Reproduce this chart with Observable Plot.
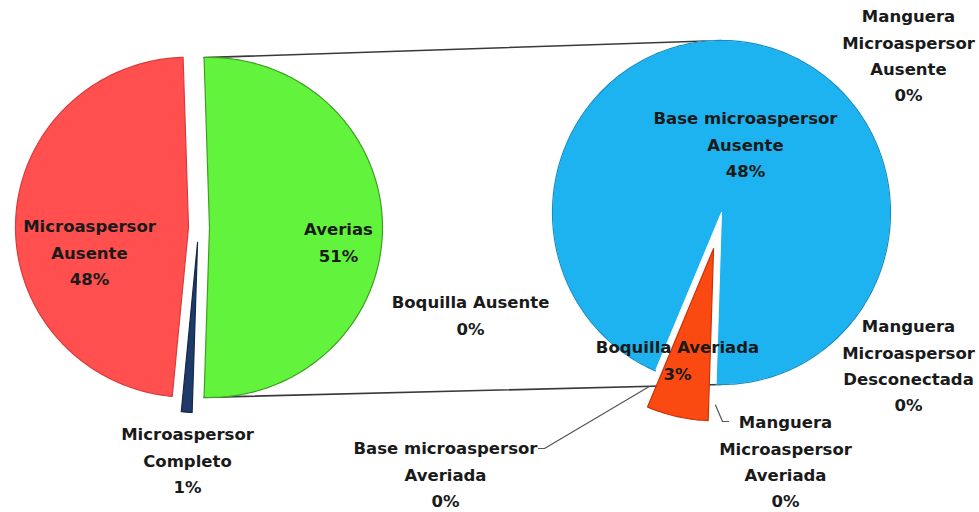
<!DOCTYPE html>
<html><head><meta charset="utf-8">
<script src="https://cdn.jsdelivr.net/npm/d3@7"></script>
<script src="https://cdn.jsdelivr.net/npm/@observablehq/plot@0.6"></script>
<style>body{margin:0;background:#fff} svg{display:block}</style>
</head><body><div id="chart"></div>
<script>
// ---- data (percent of total) ----
const primaryNames  = ["Averias", "Microaspersor Completo", "Microaspersor Ausente"];
const primaryValues = [51, 1, 48];
const primaryLabels = ["Averias", "Microaspersor\nCompleto", "Microaspersor\nAusente"];

const secondaryNames  = ["Base microaspersor Ausente", "Manguera Microaspersor Averiada", "Boquilla Averiada",
                         "Base microaspersor Averiada", "Boquilla Ausente", "Manguera Microaspersor Desconectada",
                         "Manguera Microaspersor Ausente"];
const secondaryValues = [48, 0, 3, 0, 0, 0, 0];
const secondaryLabels = ["Base microaspersor\nAusente", "Manguera\nMicroaspersor\nAveriada", "Boquilla Averiada",
                         "Base microaspersor\nAveriada", "Boquilla Ausente", "Manguera\nMicroaspersor\nDesconectada",
                         "Manguera\nMicroaspersor\nAusente"];

// ---- layout & style (not data) ----
const W = 979, H = 512;
const pie1 = {cx: 198, cy: 227, rx: 173, ry: 170};
const pie2 = {cx: 721, cy: 212, rx: 169, ry: 172, start: 203};
const explode1 = [11, 15, 10];
const explode2 = [0, 0, 37, 0, 0, 0, 0];
const fill1 = ["#62f43c", "#1f3a68", "#ff4f4f"];
const stroke1 = ["#3f9f22", "#15284a", "#d93b3b"];
const fill2 = ["#1db3f0", "#888", "#fa4a12", "#888", "#888", "#888", "#888"];
const stroke2 = ["#0f8fc6", "#888", "#c7340a", "#888", "#888", "#888", "#888"];
// label anchor: x centre, y centre of first line
const labelPos1 = [[338, 229], [187, 434], [89, 226]];
const labelPos2 = [[745, 118], [785, 422], [677, 347], [445, 448], [470, 302], [908, 326], [908, 16]];
// leaders: [radius factor of start point, end points]
const leaders2 = {1: {rf: 1.12, end: [[722, 421], [728, 421]]}, 3: {rf: 1.1, end: [[544, 448], [538, 448]]}};

const rad = d => d * Math.PI / 180;
function pt(p, a, rf = 1, off = [0, 0]) {
  return {x: p.cx + p.rx * rf * Math.sin(rad(a)) + off[0], y: p.cy - p.ry * rf * Math.cos(rad(a)) + off[1]};
}
function slices(p, values, start, explode) {
  const total = d3.sum(values);
  let a = start;
  return values.map((v, i) => {
    const a0 = a, a1 = a + v / total * 360; a = a1;
    const mid = (a0 + a1) / 2;
    const off = [Math.sin(rad(mid)) * explode[i], -Math.cos(rad(mid)) * explode[i]];
    const pts = [];
    if (v > 0) {
      pts.push(pt(p, 0, 0, off));
      const n = Math.max(2, Math.ceil(a1 - a0));
      for (let k = 0; k <= n; k++) pts.push(pt(p, a0 + (a1 - a0) * k / n, 1, off));
      pts.push(pt(p, 0, 0, off));
    }
    return {i, a0, a1, mid, off, pts};
  });
}

const total1 = d3.sum(primaryValues);
const otherAngle = primaryValues[0] / total1 * 360;
const start1 = 90 - otherAngle / 2;
const s1 = slices(pie1, primaryValues, start1, explode1);
const s2 = slices(pie2, secondaryValues, pie2.start, explode2);

const marks = [];
// connector lines between the two pies
const g = s1[0];
const conn = [
  {id: "top", ...pt(pie1, g.a0, 1, g.off)}, {id: "top", ...pt(pie2, 0)},
  {id: "bot", ...pt(pie1, g.a1, 1, g.off)}, {id: "bot", ...pt(pie2, 180)}
];
marks.push(Plot.line(conn, {x: "x", y: "y", z: "id", stroke: "#3a3a3a", strokeWidth: 1.6}));

s1.forEach((s, i) => {
  if (s.pts.length) marks.push(Plot.line(s.pts, {x: "x", y: "y", fill: fill1[i], stroke: stroke1[i], strokeWidth: 1.2}));
});
s2.forEach((s, i) => {
  if (s.pts.length) marks.push(Plot.line(s.pts, {x: "x", y: "y", fill: fill2[i], stroke: i === 0 ? "#ffffff" : stroke2[i], strokeWidth: i === 0 ? 1 : 1.2}));
});
// blue outline arc only
marks.push(Plot.line(s2[0].pts.slice(1, -1), {x: "x", y: "y", stroke: stroke2[0], strokeWidth: 1.2}));

// leader lines
const leadRows = [];
Object.entries(leaders2).forEach(([k, l]) => {
  const s = s2[+k];
  leadRows.push({id: k, ...pt(pie2, s.a0, l.rf)});
  l.end.forEach(e => leadRows.push({id: k, x: e[0], y: e[1]}));
});
marks.push(Plot.line(leadRows, {x: "x", y: "y", z: "id", stroke: "#555", strokeWidth: 1.2}));

// labels
const lab = [];
primaryValues.forEach((v, i) => lab.push({x: labelPos1[i][0], y: labelPos1[i][1] - 13, t: primaryLabels[i] + "\n" + v + "%"}));
secondaryValues.forEach((v, i) => lab.push({x: labelPos2[i][0], y: labelPos2[i][1] - 13, t: secondaryLabels[i] + "\n" + v + "%"}));
marks.push(Plot.text(lab, {x: "x", y: "y", text: "t", lineAnchor: "top", lineHeight: 1.6,
  fontSize: 16.5, fontWeight: "bold", fontFamily: "DejaVu Sans", fill: "#1a1a1a"}));

const chart = Plot.plot({
  width: W, height: H, margin: 0,
  x: {domain: [0, W], range: [0, W], axis: null},
  y: {domain: [0, H], range: [0, H], axis: null},
  style: {background: "#fff", overflow: "visible"},
  marks
});
document.getElementById("chart").append(chart);
</script>
</body></html>
